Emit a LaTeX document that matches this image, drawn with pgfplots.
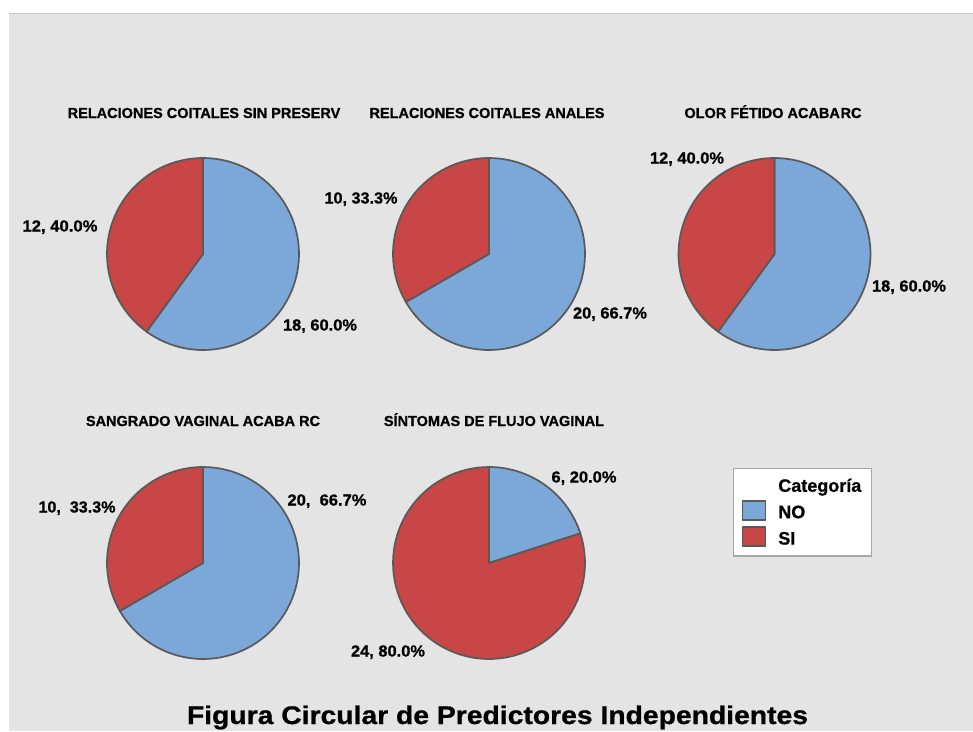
\documentclass[border=0pt]{standalone}
\usepackage{pgfplots}
\pgfplotsset{compat=1.18}
\usepackage{fontspec}
\setmainfont[BoldFeatures={FakeBold=0.8}]{Liberation Sans}
\usepackage{graphicx}
\definecolor{nocol}{HTML}{7BA7D9}
\definecolor{sicol}{HTML}{C84646}
\definecolor{edgecol}{HTML}{595959}
\definecolor{bgcol}{HTML}{E4E4E4}
\pgfplotsset{
  pieaxis/.style={anchor=center, width=192pt, height=192pt, scale only axis,
    xmin=-1, xmax=1, ymin=-1, ymax=1, hide axis, clip=false},
  nowedge/.style={fill=nocol, draw=edgecol, line width=1.7pt, line join=round, samples=72},
  siwedge/.style={fill=sicol, draw=edgecol, line width=1.7pt, line join=round, samples=72},
  legend image code/.code={\draw[#1] (0pt,-7pt) rectangle (23pt,12pt);},
}
% #1 = count NO, #2 = count SI
\newcommand{\wedges}[2]{%
  \pgfmathsetmacro{\ang}{90-360*#1/(#1+#2)}%
  \addplot[nowedge, domain=\ang:90] ({cos(x)},{sin(x)}) -- (axis cs:0,0) -- cycle;
  \addplot[siwedge, domain=-270:\ang] ({cos(x)},{sin(x)}) -- (axis cs:0,0) -- cycle;
}
% x, baseline y, width, text
\newcommand{\lab}[4]{\node[anchor=base, inner sep=0pt] at (#1pt,-#2pt)
  {\resizebox{#3pt}{\height}{\fontsize{16}{16}\selectfont\bfseries #4}};}
\newcommand{\ptitle}[3]{\node[anchor=base, inner sep=0pt] at (#1pt,-#2pt)
  {\fontsize{14.5}{14.5}\selectfont\bfseries #3};}
\begin{document}
\begin{tikzpicture}
\path[use as bounding box] (0,0) rectangle (973pt,-731pt);
\fill[white] (0,0) rectangle (973pt,-731pt);
\fill[bgcol] (9pt,-13pt) rectangle (973pt,-731pt);
\draw[black!22, line width=1pt] (9pt,-13.5pt) -- (973pt,-13.5pt);

\begin{axis}[pieaxis, at={(203pt,-254pt)}]
  \wedges{18}{12}
\end{axis}
\begin{axis}[pieaxis, at={(489pt,-254pt)}]
  \wedges{20}{10}
\end{axis}
\begin{axis}[pieaxis, at={(774.5pt,-254pt)}]
  \wedges{18}{12}
\end{axis}
\begin{axis}[pieaxis, at={(203pt,-563pt)}]
  \wedges{20}{10}
\end{axis}
\begin{axis}[pieaxis, at={(489pt,-563pt)},
  legend cell align=left,
  legend style={at={(1.7708,0.9948)}, anchor=north west, fill=white,
    draw=black!35, line width=1.2pt, inner xsep=8pt, inner ysep=8pt,
    row sep=4.5pt, font=\fontsize{18}{20}\selectfont\bfseries,
    /tikz/every odd column/.append style={column sep=10pt}}]
  \addlegendimage{empty legend}
  \addlegendentry{Categoría\hspace{11pt}}
  \pgfmathsetmacro{\ang}{90-360*6/30}
  \addplot[nowedge, domain=\ang:90] ({cos(x)},{sin(x)}) -- (axis cs:0,0) -- cycle;
  \addlegendentry{NO}
  \addplot[siwedge, domain=-270:\ang] ({cos(x)},{sin(x)}) -- (axis cs:0,0) -- cycle;
  \addlegendentry{SI}
\end{axis}

% panel titles
\ptitle{204}{118}{RELACIONES COITALES SIN PRESERV}
\ptitle{487}{118}{RELACIONES COITALES ANALES}
\ptitle{773}{118}{OLOR FÉTIDO ACABA\hspace{0.05em}RC}
\ptitle{203}{426}{SANGRADO VAGINAL ACABA RC}
\ptitle{494}{426}{SÍNTOMAS DE FLUJO VAGINAL}

% slice labels
\lab{60}{231.5}{75}{12, 40.0\%}
\lab{320}{330.5}{74}{18, 60.0\%}
\lab{361}{203.5}{73}{10, 33.3\%}
\lab{610}{318.5}{74}{20, 66.7\%}
\lab{687}{163.5}{74}{12, 40.0\%}
\lab{909}{291.5}{74}{18, 60.0\%}
\lab{77}{512.5}{77}{10,\ \ 33.3\%}
\lab{327}{505.5}{79}{20,\ \ 66.7\%}
\lab{584}{482.5}{65}{6, 20.0\%}
\lab{388}{656.5}{74}{24, 80.0\%}

% main title
\node[anchor=base, inner sep=0pt] at (497.5pt,-724pt)
  {\resizebox{621pt}{\height}{\fontsize{25.5}{25.5}\selectfont\bfseries Figura Circular de Predictores Independientes}};
\end{tikzpicture}
\end{document}
